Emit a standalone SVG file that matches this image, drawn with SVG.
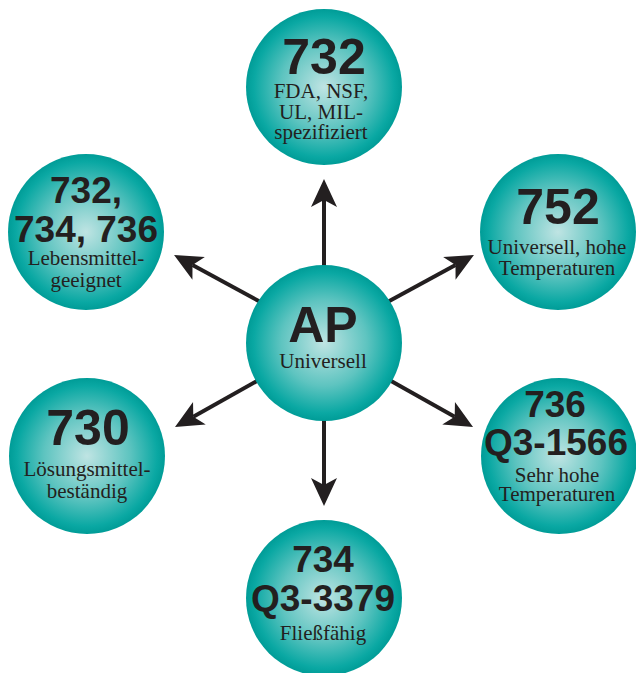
<svg xmlns="http://www.w3.org/2000/svg" width="636" height="673" viewBox="0 0 636 673">
<defs>
<radialGradient id="g" cx="50%" cy="50%" r="50%">
<stop offset="0" stop-color="#bfe4e3"/>
<stop offset="0.55" stop-color="#5ec4c0"/>
<stop offset="0.9" stop-color="#0aa8a3"/>
<stop offset="1" stop-color="#009c97"/>
</radialGradient>
<marker id="ah" markerUnits="userSpaceOnUse" viewBox="-8 -14 30 28" refX="0" refY="0" markerWidth="30" markerHeight="28" orient="auto" overflow="visible">
<path d="M-7,-13 L21,0 L-7,13 L0,0 Z" fill="#231f20"/>
</marker>
</defs>
<style>
.n{fill:url(#g)}
.b{font-family:"Liberation Sans",Arial,sans-serif;font-weight:bold;fill:#231f20;text-anchor:middle}
.s{font-family:"Liberation Serif","Times New Roman",serif;font-size:21px;fill:#231f20;text-anchor:middle}
.c{stroke:#231f20;stroke-width:4;fill:none;marker-end:url(#ah)}
</style>
<g id="connectors">
<line class="c" x1="324" y1="280" x2="324" y2="200"/>
<line class="c" x1="324" y1="410" x2="324" y2="485"/>
<line class="c" x1="266" y1="305" x2="192.5" y2="265"/>
<line class="c" x1="382" y1="305" x2="455.5" y2="265"/>
<line class="c" x1="264" y1="377" x2="193.3" y2="416.7"/>
<line class="c" x1="384" y1="377" x2="454.7" y2="416.7"/>
</g>
<g id="node-ap">
<circle class="n" cx="324" cy="343" r="78"/>
<text class="b" x="323" y="342" font-size="50">AP</text>
<text class="s" x="323" y="368">Universell</text>
</g>
<g id="node-732-top">
<circle class="n" cx="324" cy="87" r="78"/>
<text class="b" x="324" y="74" font-size="50">732</text>
<text class="s" x="321" y="98">FDA, NSF,</text>
<text class="s" x="321" y="119">UL, MIL-</text>
<text class="s" x="321" y="139">spezifiziert</text>
</g>
<g id="node-752">
<circle class="n" cx="558" cy="232" r="78"/>
<text class="b" x="558" y="224" font-size="50">752</text>
<text class="s" x="557" y="254">Universell, hohe</text>
<text class="s" x="557" y="275">Temperaturen</text>
</g>
<g id="node-736">
<circle class="n" cx="559" cy="456" r="78"/>
<text class="b" x="555" y="417" font-size="37">736</text>
<text class="b" x="556" y="455" font-size="37">Q3-1566</text>
<text class="s" x="557" y="482">Sehr hohe</text>
<text class="s" x="557" y="501">Temperaturen</text>
</g>
<g id="node-734">
<circle class="n" cx="324" cy="598" r="78"/>
<text class="b" x="323" y="572" font-size="37">734</text>
<text class="b" x="323" y="611" font-size="37">Q3-3379</text>
<text class="s" x="323" y="640">Fließfähig</text>
</g>
<g id="node-730">
<circle class="n" cx="87" cy="456" r="78"/>
<text class="b" x="88" y="445" font-size="50">730</text>
<text class="s" x="87" y="476">Lösungsmittel-</text>
<text class="s" x="87" y="498">beständig</text>
</g>
<g id="node-732-left">
<circle class="n" cx="86" cy="232" r="78"/>
<text class="b" x="86" y="203" font-size="37">732,</text>
<text class="b" x="86" y="242" font-size="37">734, 736</text>
<text class="s" x="86" y="265">Lebensmittel-</text>
<text class="s" x="86" y="287">geeignet</text>
</g>
</svg>
